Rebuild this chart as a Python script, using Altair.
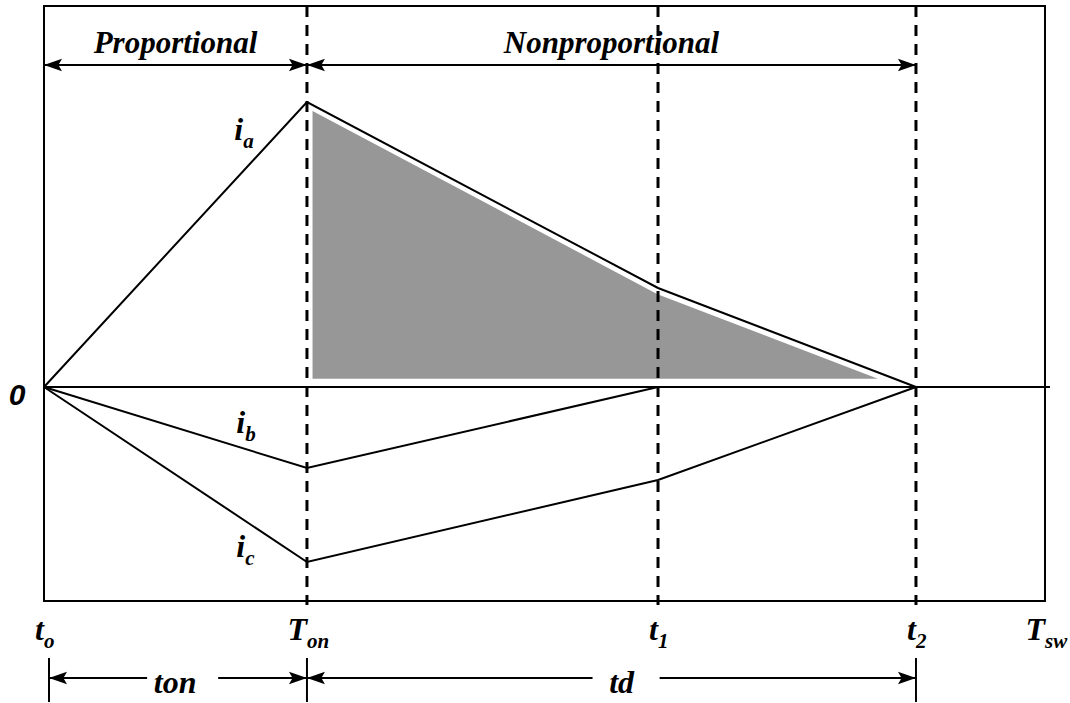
import altair as alt
import pandas as pd

# Switching instants (time normalised to the switching period T_sw = 1)
T_O, T_ON, T_1, T_2, T_SW = 0.0, 0.2627, 0.6134, 0.8711, 1.0

# Phase currents at the breakpoints
ia_t = [T_O, T_ON, T_1, T_2]
ia_v = [0.0, 2.85, 0.99, 0.0]
ib_t = [T_O, T_ON, T_1]
ib_v = [0.0, -0.81, 0.0]
ic_t = [T_O, T_ON, T_1, T_2]
ic_v = [0.0, -1.75, -0.93, 0.0]

# Shaded charge region under i_a during the nonproportional interval
shade_t = [0.267, T_1, 0.840]
shade_top = [2.78, 0.94, 0.07]
shade_base = 0.07

# Time-axis labels (main letter + subscript)
tick_main = ["t", "T", "t", "t", "T"]
tick_sub = ["o", "on", "1", "2", "sw"]
tick_pos = [T_O, T_ON, T_1, T_2, T_SW]

# Current labels
cur_main = ["i", "i", "i"]
cur_sub = ["a", "b", "c"]
cur_t = [0.199, 0.201, 0.201]
cur_y = [2.47, -0.46, -1.70]

Y_MIN, Y_MAX = -2.14, 3.81
xs = alt.Scale(domain=[0, 1], nice=False, zero=False)
ys = alt.Scale(domain=[Y_MIN, Y_MAX], nice=False, zero=False)
X = lambda f="t": alt.X(f"{f}:Q", scale=xs, axis=None)
Y = lambda f="y": alt.Y(f"{f}:Q", scale=ys, axis=None)

SERIF = "Liberation Serif"

# ---- currents
curves = pd.concat([
    pd.DataFrame({"t": ia_t, "y": ia_v, "s": "ia"}),
    pd.DataFrame({"t": ib_t, "y": ib_v, "s": "ib"}),
    pd.DataFrame({"t": ic_t, "y": ic_v, "s": "ic"}),
])
lines = alt.Chart(curves).mark_line(color="black", strokeWidth=2).encode(
    x=X(), y=Y(), detail="s:N", order="t:Q")

shade_df = pd.DataFrame({"t": shade_t, "y": shade_top, "y0": shade_base})
shade = alt.Chart(shade_df).mark_area(
    color="#979797", stroke="white", strokeWidth=2.5, opacity=1
).encode(x=X(), y=Y(), y2="y0:Q")

# ---- zero line
zero = alt.Chart(pd.DataFrame({"t": [0.0], "t2": [1.005], "y": [0.0]})).mark_rule(
    color="black", strokeWidth=2).encode(x=X(), x2="t2:Q", y=Y())

# ---- dashed markers
dash_df = pd.DataFrame({"t": [T_ON, T_1, T_2], "y": [Y_MAX] * 3, "y2": [-2.18] * 3})
dashes = alt.Chart(dash_df).mark_rule(
    color="black", strokeWidth=3, strokeDash=[11, 8]).encode(x=X(), y=Y(), y2="y2:Q")

# ---- dimension arrows
ARROW_TOP = 3.22
ARROW_BOT = -2.91
SPAN_START = 0.005
seg_df = pd.DataFrame({
    "t": [T_O, T_ON, SPAN_START, 0.174, T_ON, 0.615],
    "t2": [T_ON, T_2, 0.103, T_ON, 0.548, T_2],
    "y": [ARROW_TOP, ARROW_TOP, ARROW_BOT, ARROW_BOT, ARROW_BOT, ARROW_BOT],
})
segs = alt.Chart(seg_df).mark_rule(color="black", strokeWidth=2).encode(
    x=X(), x2="t2:Q", y=Y())

RIGHT_HEAD = "M0,0L-2,-0.7L-1.6,0L-2,0.7Z"
LEFT_HEAD = "M0,0L2,-0.7L1.6,0L2,0.7Z"
heads_r = alt.Chart(pd.DataFrame({
    "t": [T_ON, T_2, T_ON, T_2], "y": [ARROW_TOP, ARROW_TOP, ARROW_BOT, ARROW_BOT]})
).mark_point(shape=RIGHT_HEAD, filled=True, color="black", size=324, opacity=1,
             strokeWidth=0).encode(x=X(), y=Y())
heads_l = alt.Chart(pd.DataFrame({
    "t": [T_O, T_ON, SPAN_START, T_ON], "y": [ARROW_TOP, ARROW_TOP, ARROW_BOT, ARROW_BOT]})
).mark_point(shape=LEFT_HEAD, filled=True, color="black", size=324, opacity=1,
             strokeWidth=0).encode(x=X(), y=Y())

ticks = alt.Chart(pd.DataFrame({"t": [SPAN_START, T_ON, T_2], "y": [-2.71] * 3,
                                "y2": [-3.15] * 3})).mark_rule(
    color="black", strokeWidth=2).encode(x=X(), y=Y(), y2="y2:Q")

# ---- texts
def ital(**kw):
    base = dict(font=SERIF, fontStyle="italic", fontWeight="bold", color="black",
                baseline="alphabetic")
    base.update(kw)
    return base

interval_df = pd.DataFrame({"t": [T_ON / 2, (T_ON + T_2) / 2], "y": [3.34, 3.34],
                            "txt": ["Proportional", "Nonproportional"]})
interval_txt = alt.Chart(interval_df).mark_text(**ital(fontSize=31, align="center")).encode(
    x=X(), y=Y(), text="txt:N")

span_df = pd.DataFrame({"t": [0.131, 0.577], "y": [-3.06, -3.06], "txt": ["ton", "td"]})
span_txt = alt.Chart(span_df).mark_text(**ital(fontSize=32, align="center")).encode(
    x=X(), y=Y(), text="txt:N")

tick_df = pd.DataFrame({"t": tick_pos, "y": [-2.53] * 5, "m": tick_main, "s": tick_sub})
tick_m = alt.Chart(tick_df).mark_text(**ital(fontSize=32, align="right")).encode(
    x=X(), y=Y(), text="m:N")
tick_s = alt.Chart(tick_df).mark_text(**ital(fontSize=21, align="left", dy=8)).encode(
    x=X(), y=Y(), text="s:N")

cur_df = pd.DataFrame({"t": cur_t, "y": cur_y, "m": cur_main, "s": cur_sub})
cur_m = alt.Chart(cur_df).mark_text(**ital(fontSize=32, align="right")).encode(
    x=X(), y=Y(), text="m:N")
cur_s = alt.Chart(cur_df).mark_text(**ital(fontSize=21, align="left", dy=8)).encode(
    x=X(), y=Y(), text="s:N")

zero_lbl = alt.Chart(pd.DataFrame({"t": [-0.027], "y": [-0.18], "txt": ["0"]})).mark_text(
    font="Liberation Sans", fontStyle="italic", fontWeight="bold",
    fontSize=30, color="black", align="center", baseline="alphabetic"
).encode(x=X(), y=Y(), text="txt:N")

chart = alt.layer(
    shade, zero, lines, dashes, segs, heads_r, heads_l, ticks,
    interval_txt, span_txt, tick_m, tick_s, cur_m, cur_s, zero_lbl,
).properties(
    width=1001, height=595,
    autosize=alt.AutoSizeParams(type="none"),
    padding={"left": 44, "top": 6, "right": 25, "bottom": 102},
    background="white",
).configure_view(stroke="black", strokeWidth=2)

chart.save("out.html", embed_options={"renderer": "svg", "actions": False})
